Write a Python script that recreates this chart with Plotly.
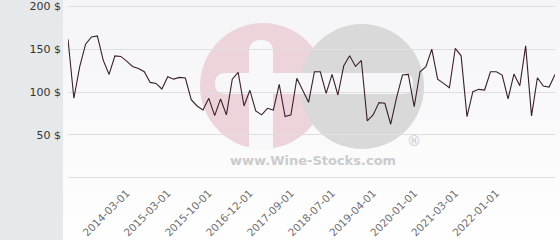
import plotly.graph_objects as go

# ---- data ----
prices = [
    161.6, 92.7, 129.5, 155.8, 164.3, 165.5, 137.2, 120.5, 142.2, 141.5,
    136.0, 129.8, 127.5, 123.6, 111.2, 110.0, 103.5, 117.8, 115.0, 117.0,
    116.3, 91.0, 83.7, 79.0, 92.6, 72.5, 91.9, 73.3, 115.0, 122.9,
    83.7, 102.0, 77.9, 73.3, 81.0, 79.0, 109.0, 71.3, 73.3, 116.0,
    102.0, 88.0, 123.6, 123.6, 98.4, 120.5, 96.5, 130.6, 142.2, 129.8,
    136.8, 66.3, 73.3, 87.6, 86.8, 62.4, 93.4, 119.8, 120.5, 82.9,
    123.6, 129.5, 150.0, 115.0, 110.0, 105.0, 150.8, 142.2, 71.3, 100.4,
    103.1, 102.3, 123.6, 123.6, 119.8, 91.9, 120.9, 107.3, 153.8, 72.1,
    116.6, 107.0, 105.8, 120.5,
]
x_index = list(range(len(prices)))
tick_index = [10, 17, 24, 31, 38, 45, 52, 59, 66, 73]
tick_labels = ["2014-03-01", "2015-03-01", "2015-10-01", "2016-12-01", "2017-09-01",
               "2018-07-01", "2019-04-01", "2020-01-01", "2021-03-01", "2022-01-01"]
y_ticks = [0, 50, 100, 150, 200]
y_tick_labels = ["", "50 $", "100 $", "150 $", "200 $"]
y_range = [-5, 205]

# ---- layout geometry (pixels) ----
W, H = 560, 240
L, R, T, B = 68, 5, 2, 58
PW, PH = W - L - R, H - T - B


def px(x):
    return (x - L) / PW


def py(y):
    return (H - B - y) / PH


fig = go.Figure()
fig.add_trace(go.Scatter(
    x=x_index, y=prices, mode="lines",
    line=dict(color="#3b1f2c", width=1.1),
    hoverinfo="skip", showlegend=False,
))

shapes = []
# light plot background panel with a soft vertical fade towards white
band_colors = ["#f5f5f8", "#f6f6f9", "#f7f7f9", "#f8f8fa", "#f9f9fb",
               "#fafafb", "#fbfbfc", "#fcfcfd", "#fdfdfd", "#fefefe"]
nb = len(band_colors)
for k, c in enumerate(band_colors):
    shapes.append(dict(type="rect", xref="paper", yref="paper", layer="below",
                       x0=px(63), x1=px(561),
                       y0=py(240 * (k + 1) / nb + (1 if k < nb - 1 else 0)),
                       y1=py(240 * k / nb - (1 if k == 0 else 0)),
                       fillcolor=c, line=dict(width=0)))
# watermark circles
shapes.append(dict(type="circle", xref="paper", yref="paper", layer="below",
                   x0=px(200), x1=px(326), y0=py(149), y1=py(23),
                   fillcolor="#ecd4da", line=dict(width=0)))
shapes.append(dict(type="circle", xref="paper", yref="paper", layer="below",
                   x0=px(300), x1=px(424), y0=py(149), y1=py(24),
                   fillcolor="#d9d9da", line=dict(width=0)))


def rounded_bar(x0, x1, y0, y1):
    r = (y1 - y0) / 2
    return (f"M {px(x0 + r)},{py(y0)} L {px(x1 - r)},{py(y0)} "
            f"Q {px(x1)},{py(y0)} {px(x1)},{py(y0 + r)} "
            f"Q {px(x1)},{py(y1)} {px(x1 - r)},{py(y1)} "
            f"L {px(x0 + r)},{py(y1)} "
            f"Q {px(x0)},{py(y1)} {px(x0)},{py(y0 + r)} "
            f"Q {px(x0)},{py(y0)} {px(x0 + r)},{py(y0)} Z")


shapes.append(dict(type="path", xref="paper", yref="paper", layer="below",
                   path=rounded_bar(215, 413, 73, 94),
                   fillcolor="#f7f7f9", line=dict(width=0)))
# vertical bar in pink circle
shapes.append(dict(type="path", xref="paper", yref="paper", layer="below",
                   path=(f"M {px(249)},{py(150)} L {px(249)},{py(52)} "
                         f"Q {px(249)},{py(40)} {px(261)},{py(40)} "
                         f"Q {px(273)},{py(40)} {px(273)},{py(52)} "
                         f"L {px(273)},{py(150)} Z"),
                   fillcolor="#f8f8fa", line=dict(width=0)))

fig.update_layout(
    template="none",
    width=W, height=H,
    margin=dict(l=L, r=R, t=T, b=B, pad=0, autoexpand=False),
    paper_bgcolor="#e6e9ec",
    plot_bgcolor="#f7f7f9",
    font=dict(family="DejaVu Sans", size=11, color="#333333"),
    shapes=shapes,
    annotations=[
        dict(text="<b>www.Wine-Stocks.com</b>", xref="paper", yref="paper",
             x=px(313), y=py(160), xanchor="center", yanchor="middle",
             showarrow=False,
             font=dict(family="DejaVu Sans", size=13, color="#cbcbcd")),
        dict(text="®", xref="paper", yref="paper",
             x=px(414), y=py(141), xanchor="center", yanchor="middle",
             showarrow=False,
             font=dict(family="DejaVu Sans", size=14, color="#c9c9cb")),
    ],
    xaxis=dict(
        range=[0, len(prices) - 1], showgrid=False, zeroline=False,
        showline=False, ticks="", automargin=False,
        tickmode="array", tickvals=tick_index, ticktext=tick_labels,
        tickangle=-45, tickfont=dict(size=10.5, color="#707070"),
        ticklabelstandoff=2,
    ),
    yaxis=dict(
        range=y_range, showgrid=True, gridcolor="#dedede", gridwidth=1,
        zeroline=False, showline=False, ticks="", automargin=False,
        tickmode="array", tickvals=y_ticks, ticktext=y_tick_labels,
        tickfont=dict(size=11, color="#333333"),
        ticklabelstandoff=6,
    ),
)

fig.write_html("out.html")
